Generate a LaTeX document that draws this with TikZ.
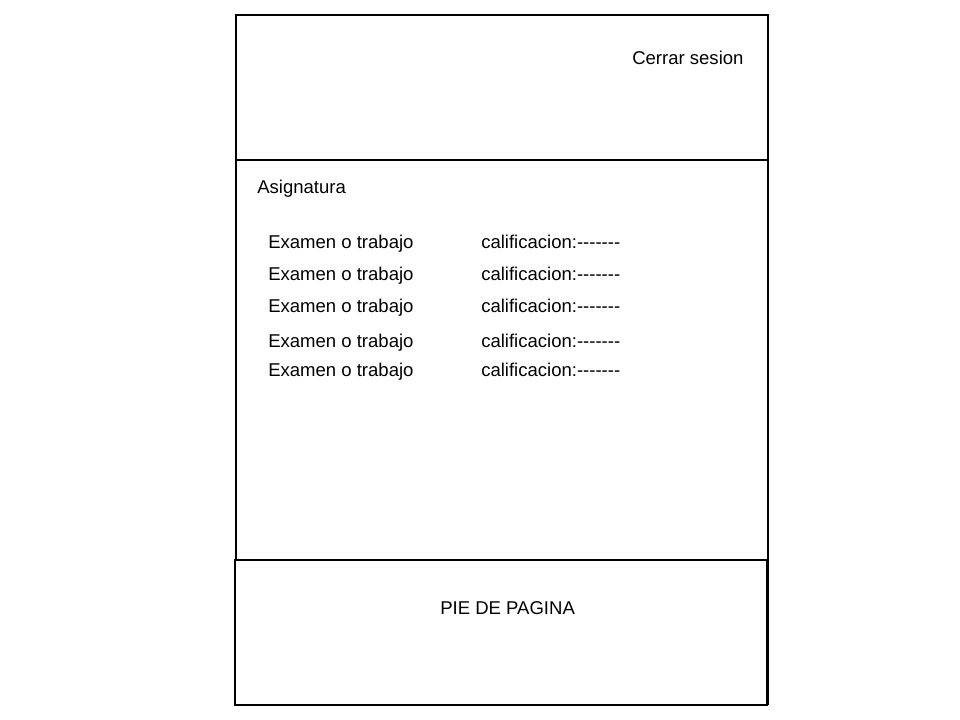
\documentclass[tikz,border=0pt]{standalone}
\usepackage{fontspec}
\setmainfont{Liberation Sans}[Ligatures=TeXOff]
\begin{document}
\begin{tikzpicture}[x=0.75pt,y=-0.75pt,
  panel/.style={draw=black,line width=1pt},
  lbl/.style={anchor=base west,inner sep=0pt,font=\fontsize{13.9pt}{16pt}\selectfont}]
\useasboundingbox (0,0) rectangle (960,720);
\fill[white] (0,0) rectangle (960,720);
\draw[panel] (236,15) rectangle (768,160);
\draw[panel] (236,160) rectangle (768,560);
\draw[panel] (235,560) rectangle (767.5,705);
\draw[line width=1.6pt] (767.5,560) -- (767.5,705);
\node[lbl] (cerrar) at (632,64.5) {Cerrar sesion};
\node[lbl] (asig) at (257,193.5) {Asignatura};
\foreach \y [count=\i] in {248.5,280.5,312.5,347.5,376.5}{
  \node[lbl] (ex\i) at (268,\y) {Examen o trabajo};
  \node[lbl] (cal\i) at (481,\y) {calificacion:-------};
}
\node[lbl] (pie) at (440,614.5) {PIE DE PAGINA};
\end{tikzpicture}
\end{document}
